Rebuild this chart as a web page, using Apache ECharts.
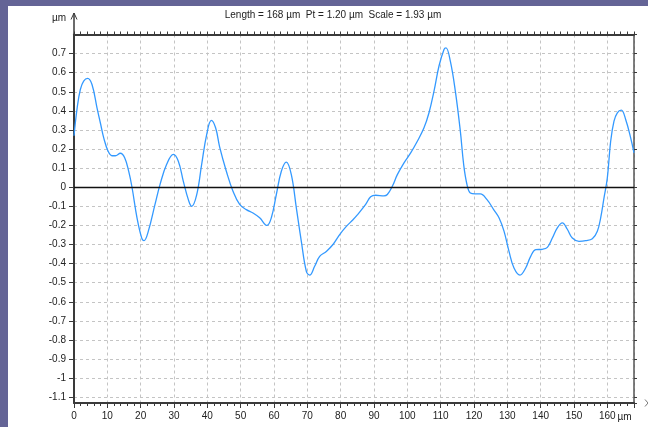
<!DOCTYPE html>
<html>
<head>
<meta charset="utf-8">
<script src="https://cdn.jsdelivr.net/npm/echarts@6/dist/echarts.min.js"></script>
<style>
  html, body { margin: 0; padding: 0; width: 648px; height: 427px; background: #646496; overflow: hidden; }
  #chart { position: absolute; left: 8px; top: 6px; width: 640px; height: 421px; background: #ffffff; }
</style>
</head>
<body>
<div id="chart"></div>
<script>
// Profile positions (µm) and heights (µm)
const xPos = [0, 0.95, 1.9, 2.9, 4.1, 5.4, 6.9, 8.0, 8.9, 10.2, 11.4, 12.4, 13.9, 15.2, 16.4, 17.4, 18.9, 20.3, 21.0, 22.3,
  24.3, 25.8, 27.8, 29.8, 31.3, 32.8, 34.3, 35.3, 36.8, 38.3, 39.8, 41.2, 42.5, 43.7, 45.7, 47.7, 49.7, 51.7, 53.7, 55.7,
  57.9, 59.2, 60.7, 62.2, 63.7, 65.2, 66.7, 68.2, 69.7, 70.7, 72.2, 73.7, 75.7, 77.7, 79.7, 81.7, 83.7, 85.0, 87.5, 89.0,
  90.5, 93.0, 94.0, 95.5, 97.0, 99.0, 101.0, 103.0, 105.0, 106.5, 108.0, 109.5, 111.0, 111.6, 112.9, 114.4, 115.9, 116.9, 117.9, 118.9,
  120.4, 121.9, 123.9, 125.9, 127.5, 129.0, 130.5, 132.0, 133.8, 135.5, 137.0, 138.5, 140.5, 142.0, 143.5, 145.0, 146.5, 148.0, 149.5, 151.5,
  153.5, 155.5, 157.0, 158.0, 159.0, 160.0, 161.0, 162.0, 163.0, 164.2, 165.5, 167.0, 168.0];
const heights = [0.27, 0.416, 0.512, 0.556, 0.57, 0.538, 0.416, 0.33, 0.26, 0.19, 0.165, 0.165, 0.178, 0.155, 0.084, 0.0, -0.16, -0.265, -0.28, -0.23,
  -0.09, 0.014, 0.12, 0.172, 0.136, 0.031, -0.065, -0.1, -0.04, 0.12, 0.276, 0.35, 0.31, 0.21, 0.084, -0.021, -0.09, -0.117, -0.135, -0.16,
  -0.2, -0.16, -0.038, 0.084, 0.132, 0.066, -0.108, -0.283, -0.44, -0.46, -0.414, -0.362, -0.336, -0.3, -0.248, -0.205, -0.17, -0.145, -0.09, -0.05,
  -0.042, -0.045, -0.038, 0.005, 0.066, 0.128, 0.18, 0.241, 0.311, 0.39, 0.503, 0.635, 0.722, 0.73, 0.66, 0.503, 0.294, 0.119, 0.014, -0.03,
  -0.035, -0.035, -0.065, -0.117, -0.16, -0.23, -0.336, -0.423, -0.46, -0.423, -0.362, -0.327, -0.325, -0.315, -0.266, -0.213, -0.187, -0.22, -0.266, -0.283,
  -0.28, -0.27, -0.23, -0.16, -0.056, 0.049, 0.241, 0.346, 0.39, 0.404, 0.355, 0.259, 0.18];

const titleText = 'Length = 168 µm  Pt = 1.20 µm  Scale = 1.93 µm';
const unitLabel = 'µm';
const xRange = [0, 168];
const yRange = [-1.13, 0.8];

const FONT = '"Liberation Sans Narrow", "Arial Narrow", "Liberation Sans", sans-serif';
const profile = xPos.map((x, i) => [x, heights[i]]);

const chart = echarts.init(document.getElementById('chart'), null, { renderer: 'canvas' });

const yLabelFmt = v => {
  const r = Math.round(v * 10) / 10;
  return r === 0 ? '0' : String(r);
};

chart.setOption({
  animation: false,
  backgroundColor: '#ffffff',
  grid: { left: 66, top: 28.5, right: 14, bottom: 24, containLabel: false },
  xAxis: [{
    type: 'value', min: xRange[0], max: xRange[1], interval: 10, position: 'bottom',
    axisLine: { show: true, onZero: false, lineStyle: { color: '#3a3a3a', width: 2 } },
    axisTick: { show: true, length: 5, lineStyle: { color: '#3a3a3a', width: 1 } },
    minorTick: { show: true, splitNumber: 5, length: 3, lineStyle: { color: '#3a3a3a', width: 1 } },
    axisLabel: { show: true, margin: 8, color: '#222', fontSize: 10, fontFamily: FONT, showMaxLabel: false },
    splitLine: { show: true, lineStyle: { color: '#c4c4c4', type: [3, 3], width: 1 } }
  }, {
    type: 'value', min: xRange[0], max: xRange[1], interval: 10, position: 'top',
    axisLine: { show: true, onZero: false, lineStyle: { color: '#3a3a3a', width: 2 } },
    axisTick: { show: true, length: 3, lineStyle: { color: '#3a3a3a', width: 1 } },
    minorTick: { show: true, splitNumber: 5, length: 3, lineStyle: { color: '#3a3a3a', width: 1 } },
    axisLabel: { show: false },
    splitLine: { show: false }
  }],
  yAxis: [{
    type: 'value', min: yRange[0], max: yRange[1], splitNumber: 19, position: 'left',
    axisLine: { show: true, onZero: false, lineStyle: { color: '#3a3a3a', width: 2 } },
    axisTick: { show: true, length: 5, lineStyle: { color: '#3a3a3a', width: 1 } },
    axisLabel: { show: true, margin: 8, color: '#222', fontSize: 10, fontFamily: FONT,
      showMinLabel: false, showMaxLabel: false, formatter: yLabelFmt },
    splitLine: { show: true, lineStyle: { color: '#c4c4c4', type: [3, 3], width: 1 } }
  }, {
    type: 'value', min: yRange[0], max: yRange[1], splitNumber: 19, position: 'right',
    axisLine: { show: true, onZero: false, lineStyle: { color: '#555', width: 1.5 } },
    axisTick: { show: true, length: 3, lineStyle: { color: '#3a3a3a', width: 1 } },
    axisLabel: { show: false },
    splitLine: { show: false }
  }],
  series: [{
    type: 'line',
    data: profile,
    xAxisIndex: 0, yAxisIndex: 0,
    smooth: 0.4,
    showSymbol: false,
    lineStyle: { color: '#3399ff', width: 1.3 },
    markLine: {
      silent: true, symbol: 'none', label: { show: false },
      lineStyle: { color: '#111', type: 'solid', width: 1.3 },
      data: [{ yAxis: 0 }]
    },
    z: 3
  }],
  graphic: [
    { type: 'text', x: 325, y: 9.5,
      style: { text: titleText, fill: '#222', font: '10px ' + FONT, textAlign: 'center', textVerticalAlign: 'middle' } },
    { type: 'text', x: 58, y: 12.5,
      style: { text: unitLabel, fill: '#222', font: '10px ' + FONT, textAlign: 'right', textVerticalAlign: 'middle' } },
    { type: 'line', shape: { x1: 66, y1: 29, x2: 66, y2: 7 }, style: { stroke: '#3a3a3a', lineWidth: 1.5 } },
    { type: 'polyline', shape: { points: [[63, 13.5], [66, 7], [69, 13.5]] }, style: { stroke: '#3a3a3a', lineWidth: 1, fill: null } },
    { type: 'text', x: 609.5, y: 411,
      style: { text: unitLabel, fill: '#222', font: '10px ' + FONT, textAlign: 'left', textVerticalAlign: 'middle' } },
    { type: 'polyline', shape: { points: [[637, 393.5], [640, 397], [637, 400.5]] }, style: { stroke: '#777', lineWidth: 1, fill: null } }
  ]
});
</script>
</body>
</html>
